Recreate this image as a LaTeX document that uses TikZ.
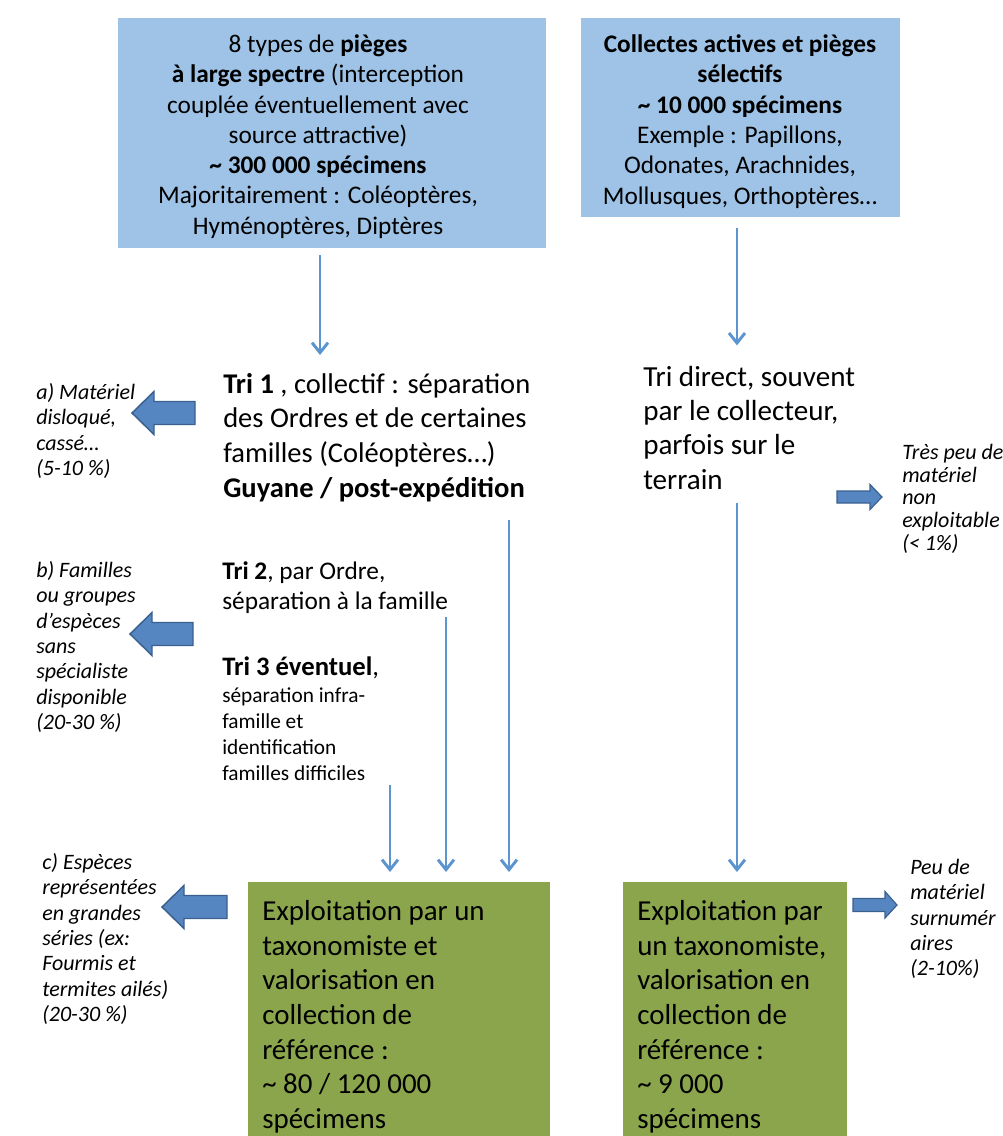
\documentclass[tikz,border=0pt]{standalone}
\usepackage{fontspec}
\setmainfont{Carlito}
\usetikzlibrary{arrows.meta,positioning}

\definecolor{boxblue}{RGB}{158,195,230}
\definecolor{boxgreen}{RGB}{139,165,76}
\definecolor{flowblue}{RGB}{92,148,208}
\definecolor{arrowfill}{RGB}{86,134,194}
\definecolor{arrowedge}{RGB}{58,96,142}

\begin{document}
\begin{tikzpicture}[x=0.75pt,y=-0.75pt,
	>={Straight Barb[length=7.5pt,width=12pt]},
	flow/.style={->,color=flowblue,line width=2.2pt},
	txt/.style={inner sep=0pt,align=left,anchor=north west},
	note/.style={txt,font=\itshape\fontsize{16.5}{19}\selectfont},
	bigarrow/.style={fill=arrowfill,draw=arrowedge,line width=1.1pt},
	bluebox/.style={fill=boxblue,inner sep=0pt},
	boxtext/.style={inner sep=0pt,align=center,font=\fontsize{19}{22.7}\selectfont},
	greenbox/.style={fill=boxgreen,anchor=north west,inner xsep=10.5pt,
		inner ysep=0pt,align=flush left,font=\fontsize{21.7}{26}\selectfont}]

\useasboundingbox (0,0) rectangle (1003,1136);

\node[bluebox,minimum width=321pt,minimum height=172.5pt] (pieges) at (332,133) {};
\node[boxtext] (piegesTxt) at (318,136.5)
	{8 types de \textbf{pièges}\\
	\textbf{à large spectre} (interception\\
	couplée éventuellement avec\\
	source attractive)\\
	\textbf{\textasciitilde{} 300 000 spécimens}\\
	Majoritairement : Coléoptères,\\
	Hyménoptères, Diptères};

\node[bluebox,minimum width=239.25pt,minimum height=149.25pt] (collectes) at (740.5,117.5) {};
\node[boxtext] (collectesTxt) at (740,121.5)
	{\textbf{Collectes actives et pièges}\\
	\textbf{sélectifs}\\
	\textbf{\textasciitilde{} 10 000 spécimens}\\
	Exemple : Papillons,\\
	Odonates, Arachnides,\\
	Mollusques, Orthoptères…};

\node[txt,font=\fontsize{21.4}{26}\selectfont] (tri1) at (223,373)
	{\textbf{Tri 1} , collectif : séparation\\
	des Ordres et de certaines\\
	familles (Coléoptères…)\\
	\textbf{Guyane / post-expédition}};

\node[txt,font=\fontsize{21.8}{25.7}\selectfont] (tridirect) at (643,366)
	{Tri direct, souvent\\
	par le collecteur,\\
	parfois sur le\\
	terrain};

\node[txt,font=\fontsize{19}{22.5}\selectfont] (tri2) at (222,561)
	{\textbf{Tri 2}, par Ordre,\\
	séparation à la famille};

\node[txt,font=\fontsize{20}{24}\selectfont] (tri3) at (222,657)
	{\textbf{Tri 3 éventuel},};
\node[txt,font=\fontsize{16}{19.5}\selectfont,below=6pt of tri3.south west,anchor=north west] (tri3b)
	{séparation infra-\\
	famille et\\
	identification\\
	familles difficiles};

\node[greenbox,text width=205.5pt,minimum height=202pt] (exploitA) at (248,882)
	{Exploitation par un\\
	taxonomiste et\\
	valorisation en\\
	collection de\\
	référence :\\
	\textasciitilde{} 80 / 120 000\\
	spécimens};

\node[greenbox,text width=147pt,minimum height=202pt] (exploitB) at (623,882)
	{Exploitation par\\
	un taxonomiste,\\
	valorisation en\\
	collection de\\
	référence :\\
	\textasciitilde{} 9 000\\
	spécimens};

% side notes
\node[note] (noteA) at (36,383)
	{a) Matériel\\ disloqué,\\ cassé…\\ (5-10 \%)};
\node[note] (noteB) at (36,561)
	{b) Familles\\ ou groupes\\ d’espèces\\ sans\\ spécialiste\\ disponible\\ (20-30 \%)};
\node[note] (noteC) at (42,853)
	{c) Espèces\\ représentées\\ en grandes\\ séries (ex:\\ Fourmis et\\ termites ailés)\\ (20-30 \%)};
\node[note,font=\itshape\fontsize{16.5}{17}\selectfont] (noteD) at (902,444)
	{Très peu de\\ matériel\\ non\\ exploitable\\ (< 1\%)};
\node[note] (noteE) at (910,859)
	{Peu de\\ matériel\\ surnumér\\ aires\\ (2-10\%)};

% vertical flows
\coordinate (colA) at (320,0);
\coordinate (colB) at (737,0);
\coordinate (t1out) at (509,520);
\coordinate (t2out) at (446,617);
\coordinate (t3out) at (390,785);
\coordinate (tdout) at (737,503);

\draw[flow,shorten <=5pt,shorten >=13.5pt] (pieges.south -| colA) -- (tri1.north -| colA);
\draw[flow,shorten <=8pt,shorten >=15.5pt] (collectes.south -| colB) -- (tridirect.north -| colB);
\draw[flow,shorten >=7.5pt] (t1out) -- (t1out |- exploitA.north);
\draw[flow,shorten >=7.5pt] (t2out) -- (t2out |- exploitA.north);
\draw[flow,shorten >=7.5pt] (t3out) -- (t3out |- exploitA.north);
\draw[flow,shorten >=7.5pt] (tdout) -- (tdout |- exploitB.north);

% block arrows
\draw[bigarrow] (132,413) -- ++(22,-21.5) -- ++(0,10) -- ++(41,0) -- ++(0,23)
	-- ++(-41,0) -- ++(0,10) -- cycle;
\draw[bigarrow] (130,634) -- ++(22,-21.5) -- ++(0,10) -- ++(41,0) -- ++(0,23)
	-- ++(-41,0) -- ++(0,10) -- cycle;
\draw[bigarrow] (162,907) -- ++(22,-21.5) -- ++(0,10) -- ++(43,0) -- ++(0,23)
	-- ++(-43,0) -- ++(0,10) -- cycle;
\draw[bigarrow,line width=0.9pt] (882,497) -- ++(-12,-12.5) -- ++(0,6.5) -- ++(-33,0) -- ++(0,12)
	-- ++(33,0) -- ++(0,6.5) -- cycle;
\draw[bigarrow,line width=0.9pt] (897,905) -- ++(-12,-13.5) -- ++(0,7) -- ++(-32,0) -- ++(0,13)
	-- ++(32,0) -- ++(0,6.5) -- cycle;

\end{tikzpicture}
\end{document}
